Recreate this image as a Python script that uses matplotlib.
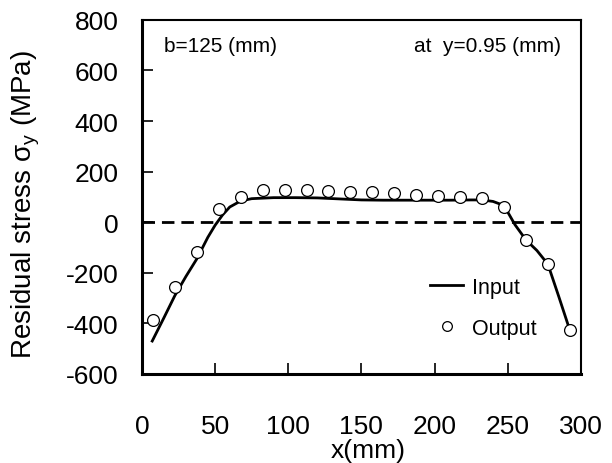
import matplotlib
matplotlib.use("Agg")
import matplotlib.pyplot as plt

plt.rcParams['font.family'] = ['Liberation Sans', 'DejaVu Sans']
plt.rcParams['mathtext.fontset'] = 'custom'
plt.rcParams['mathtext.rm'] = 'Liberation Sans'
plt.rcParams['axes.unicode_minus'] = False

# Output (circles)
x_out = [7.5, 22.5, 37.5, 52.5, 67.5, 82.5, 97.5, 112.5, 127.5, 142.5,
         157.5, 172.5, 187.5, 202.5, 217.5, 232.5, 247.5, 262.5, 277.5, 292.5]
y_out = [-385, -255, -119, 51, 100, 126, 129, 129, 125, 120,
         121, 116, 108, 105, 99, 95, 62, -70, -166, -427]

# Input (line)
x_in = [7, 15, 22.5, 30, 37.5, 45, 50, 55, 60, 67.5, 75, 90, 105, 120, 135,
        150, 165, 180, 195, 210, 225, 232.5, 240, 247.5, 255, 262.5, 270,
        277.5, 285, 292.5]
y_in = [-470, -378, -290, -215, -145, -60, -12, 28, 60, 84, 93, 97, 97, 96, 92,
        88, 87, 87, 87, 87, 88, 88, 82, 66, -10, -70, -112, -166, -295, -427]

xticks = [0, 50, 100, 150, 200, 250, 300]
yticks = [-600, -400, -200, 0, 200, 400, 600, 800]

fig = plt.figure(figsize=(6.12, 4.64), dpi=100)
ax = fig.add_axes([0.232, 0.192, 0.717, 0.763])

ax.axhline(0, color='black', lw=2, dashes=(4.5, 2.5), zorder=1)
ax.plot(x_in, y_in, color='black', lw=2, label='Input', zorder=2)
ax.plot(x_out, y_out, 'o', mfc='white', mec='black', mew=0.9, ms=8.5,
        zorder=3)
# legend marker is a bit smaller
ax.plot([], [], 'o', mfc='white', mec='black', mew=0.9, ms=7, label='Output')

ax.set_xlim(0, 300)
ax.set_ylim(-600, 800)
ax.set_xticks(xticks)
ax.set_yticks(yticks)
ax.tick_params(axis='x', direction='in', length=8, width=1.2, pad=29,
               labelsize=19)
ax.tick_params(axis='y', direction='in', length=8, width=1.2, pad=17,
               labelsize=19)
for s in ['left', 'bottom']:
    ax.spines[s].set_linewidth(2.2)
for s in ['top', 'right']:
    ax.spines[s].set_linewidth(1.5)

ax.set_xlabel('x(mm)', fontsize=19, va='top')
ax.xaxis.set_label_coords(0.515, -0.181)
ax.set_ylabel(r'Residual stress σ$_\mathrm{y}$ (MPa)', fontsize=20)
ax.yaxis.set_label_coords(-0.228, 0.48)

ax.text(0.05, 0.955, 'b=125 (mm)', transform=ax.transAxes, fontsize=15,
        ha='left', va='top')
ax.text(0.955, 0.955, 'at  y=0.95 (mm)', transform=ax.transAxes, fontsize=15,
        ha='right', va='top')

ax.legend(loc='upper left', bbox_to_anchor=(0.656, 0.275), frameon=False,
          fontsize=15.5, handlelength=1.55, handletextpad=0.4,
          labelspacing=0.95, borderpad=0, borderaxespad=0)

fig.savefig('out.png', dpi=100)
